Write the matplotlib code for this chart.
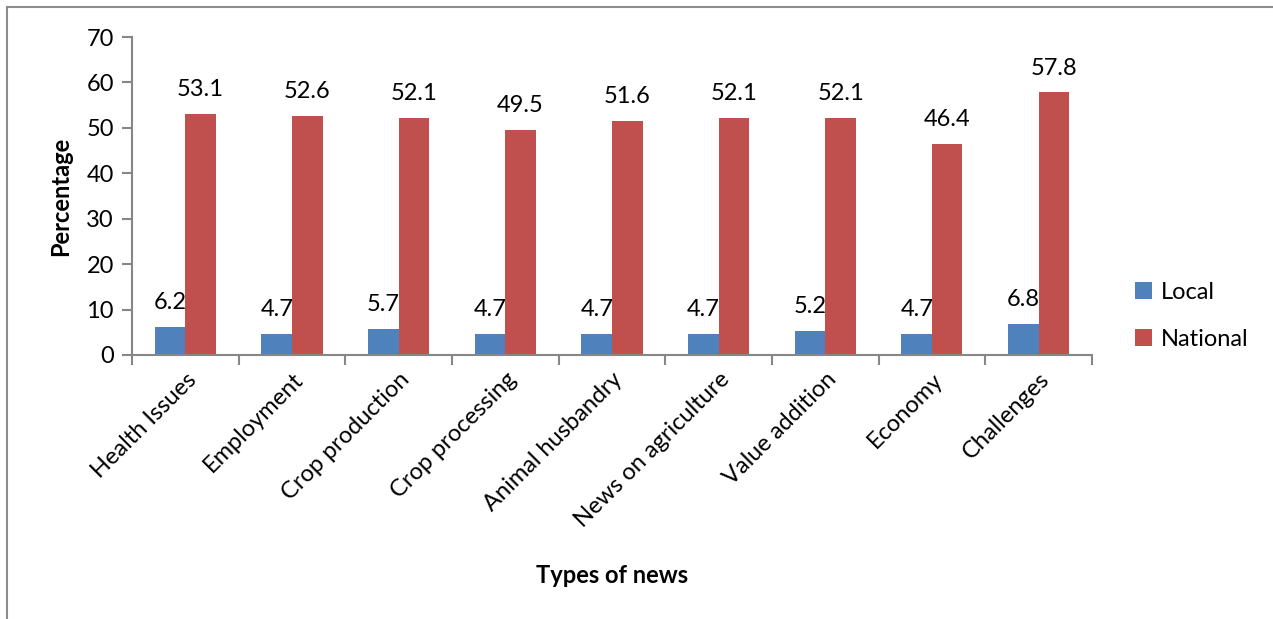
import numpy as np
import matplotlib.pyplot as plt
from matplotlib.lines import Line2D

plt.rcParams['font.family'] = ['Lato', 'DejaVu Sans']

categories = ['Health Issues', 'Employment', 'Crop production', 'Crop processing',
              'Animal husbandry', 'News on agriculture', 'Value addition', 'Economy', 'Challenges']
local = [6.2, 4.7, 5.7, 4.7, 4.7, 4.7, 5.2, 4.7, 6.8]
national = [53.1, 52.6, 52.1, 49.5, 51.6, 52.1, 52.1, 46.4, 57.8]

blue = '#4F81BD'
red = '#C0504D'
grey = '#868686'
fs = 17

fig = plt.figure(figsize=(12.73, 6.19), dpi=100)
ax = fig.add_axes([0.1037, 0.4265, 0.7541, 0.5137])

x = np.arange(len(categories))
w = 0.286
b1 = ax.bar(x - w / 2, local, w, color=blue, label='Local')
b2 = ax.bar(x + w / 2, national, w, color=red, label='National')

for rects, vals in [(b1, local), (b2, national)]:
    for r, v in zip(rects, vals):
        ax.annotate(f'{v}', (r.get_x() + r.get_width() / 2, v), xytext=(0, 10),
                    textcoords='offset points', ha='center', va='bottom', fontsize=fs)

ax.set_xlim(-0.5, len(categories) - 0.5)
ax.set_ylim(0, 70)
ax.set_yticks(range(0, 71, 10))
ax.set_xticks(np.arange(-0.5, len(categories), 1))
ax.set_xticklabels([])
ax.set_xticks(x, minor=True)
ax.set_xticklabels(categories, minor=True, rotation=45, ha='right', rotation_mode='anchor', fontsize=fs)
ax.tick_params(axis='x', which='minor', length=0, pad=10)
ax.tick_params(axis='x', which='major', length=7, color=grey, width=1.5)
ax.tick_params(axis='y', length=7, color=grey, width=1.5, labelsize=fs, pad=6)

for s in ['top', 'right']:
    ax.spines[s].set_visible(False)
for s in ['left', 'bottom']:
    ax.spines[s].set_color(grey)
    ax.spines[s].set_linewidth(1.5)

ax.set_ylabel('Percentage', fontsize=fs, fontweight='bold', labelpad=10)
fig.text(0.481, 0.07, 'Types of news', fontsize=fs, fontweight='bold', ha='center', va='center')

fig.legend(handles=[b1, b2], loc='center left', bbox_to_anchor=(0.875, 0.49), frameon=False,
           fontsize=fs, handlelength=0.7, handleheight=0.7, labelspacing=1.1, handletextpad=0.4)

fig.add_artist(Line2D([0.0055, 0.0055], [0, 0.989], color='#8c8c8c', lw=1.5, transform=fig.transFigure))
fig.add_artist(Line2D([0.0055, 1.0], [0.989, 0.989], color='#8c8c8c', lw=1.5, transform=fig.transFigure))

fig.savefig('out.png', dpi=100)
